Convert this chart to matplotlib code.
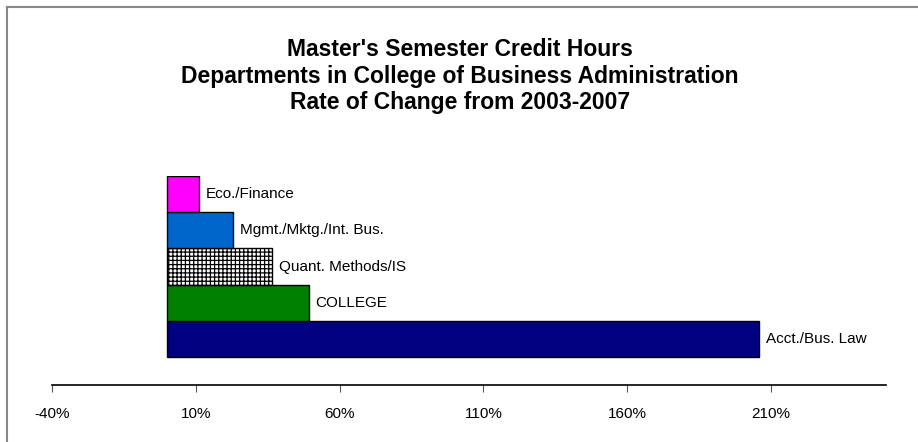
import matplotlib.pyplot as plt
from matplotlib.lines import Line2D

plt.rcParams['font.family'] = ['Liberation Sans', 'DejaVu Sans']
plt.rcParams['hatch.linewidth'] = 0.9

# bottom to top, as stacked in the chart
departments = ['Acct./Bus. Law', 'COLLEGE', 'Quant. Methods/IS',
               'Mgmt./Mktg./Int. Bus.', 'Eco./Finance']
rate_change = [206.0, 49.3, 36.6, 23.1, 11.2]
colors = ['#000080', '#008000', '#ffffff', '#0066cc', '#ff00ff']
hatches = [None, None, '++++', None, None]

ticks = [-40, 10, 60, 110, 160, 210]
title = ("Master's Semester Credit Hours\n"
         "Departments in College of Business Administration\n"
         "Rate of Change from 2003-2007")

fig = plt.figure(figsize=(9.18, 4.42), dpi=100)
ax = fig.add_axes([52 / 918, 57 / 442, 834 / 918, 209 / 442])

for i, (name, val) in enumerate(zip(departments, rate_change)):
    ax.barh(i, val, height=1.0, left=0, color=colors[i], edgecolor='black',
            linewidth=1.0, hatch=hatches[i])
    ax.text(val + 2.4, i, name, va='center', ha='left', fontsize=11)

ax.set_xlim(-40, 250)
ax.set_ylim(-1.27, 4.5)

for s in ['top', 'right', 'left']:
    ax.spines[s].set_visible(False)
ax.spines['bottom'].set_linewidth(1.2)
ax.set_yticks([])
ax.set_xticks(ticks)
ax.set_xticklabels([f'{t}%' for t in ticks], fontsize=11)
ax.tick_params(axis='x', direction='out', length=5, width=0.8, pad=11,
               color='#555555')

fig.text(0.501, 1 - 76 / 442, title, ha='center', va='center', fontsize=16.5,
         fontweight='bold', linespacing=1.17)

# grey frame on the top and left edges
fig.add_artist(Line2D([7 / 918, 7 / 918], [0, 1 - 7 / 442], color='#888888',
                      linewidth=1.5, transform=fig.transFigure))
fig.add_artist(Line2D([7 / 918, 1], [1 - 7 / 442, 1 - 7 / 442], color='#888888',
                      linewidth=1.5, transform=fig.transFigure))

fig.savefig('out.png', dpi=100)
